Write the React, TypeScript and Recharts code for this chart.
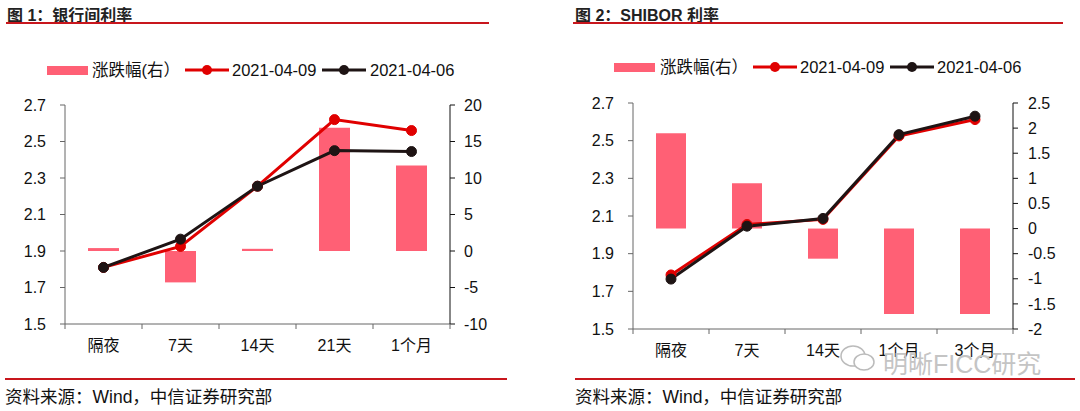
import React from 'react';
import { ComposedChart, Bar, Line, XAxis, YAxis } from 'recharts';

// 图1 银行间利率
const ibCategories = ['隔夜', '7天', '14天', '21天', '1个月'];
const ib0409 = [1.81, 1.925, 2.255, 2.62, 2.56];
const ib0406 = [1.81, 1.965, 2.255, 2.45, 2.445];
const ibChange = [0.4, -4.3, 0.3, 16.9, 11.7];
const ibLeftTicks = [1.5, 1.7, 1.9, 2.1, 2.3, 2.5, 2.7];
const ibRightTicks = [-10, -5, 0, 5, 10, 15, 20];

// 图2 SHIBOR
const shCategories = ['隔夜', '7天', '14天', '1个月', '3个月'];
const sh0409 = [1.787, 2.055, 2.082, 2.525, 2.612];
const sh0406 = [1.765, 2.046, 2.087, 2.532, 2.63];
const shChange = [1.9, 0.9, -0.6, -1.7, -1.7];
const shLeftTicks = [1.5, 1.7, 1.9, 2.1, 2.3, 2.5, 2.7];
const shRightTicks = [-2, -1.5, -1, -0.5, 0, 0.5, 1, 1.5, 2, 2.5];

const FONT = '"Liberation Sans", "Noto Sans CJK SC", sans-serif';
const RED = '#e00000';
const BLACK = '#1e1414';
const PINK = '#ff6075';
const RULE = '#c8161d';

const ibData = ibCategories.map((name, i) => ({
  name, a: ib0409[i], b: ib0406[i], chg: ibChange[i],
}));
const shData = shCategories.map((name, i) => ({
  name, a: sh0409[i], b: sh0406[i], chg: shChange[i],
}));

// category ticks sit on band boundaries, like the excel original
const CatTick = (props: any) => {
  const { x, y, payload, index, band, count } = props;
  return (
    <g>
      <line x1={x - band / 2} y1={y} x2={x - band / 2} y2={y + 5} stroke="#666" />
      {index === count - 1 && (
        <line x1={x + band / 2} y1={y} x2={x + band / 2} y2={y + 5} stroke="#666" />
      )}
      <text x={x} y={y + 21} textAnchor="middle" dominantBaseline="central"
        fontSize={16} fill="#111" fontFamily={FONT}>
        {payload.value}
      </text>
    </g>
  );
};

const LegendRow = ({ left, top, pos }: { left: number; top: number; pos: number[] }) => (
  <div style={{ position: 'absolute', left, top, width: 520, height: 20, fontFamily: FONT, fontSize: 16.5, color: '#111' }}>
    <div style={{ position: 'absolute', left: pos[0], top: 6, width: 41, height: 9, background: PINK }} />
    <span style={{ position: 'absolute', left: pos[1], top: 0, lineHeight: '20px' }}>涨跌幅(右）</span>
    <svg style={{ position: 'absolute', left: pos[2], top: 0 }} width={44} height={20}>
      <line x1={0} y1={10} x2={44} y2={10} stroke={RED} strokeWidth={3} />
      <circle cx={22} cy={10} r={5} fill={RED} />
    </svg>
    <span style={{ position: 'absolute', left: pos[3], top: 0, lineHeight: '20px' }}>2021-04-09</span>
    <svg style={{ position: 'absolute', left: pos[4], top: 0 }} width={44} height={20}>
      <line x1={0} y1={10} x2={44} y2={10} stroke={BLACK} strokeWidth={3} />
      <circle cx={22} cy={10} r={5} fill={BLACK} />
    </svg>
    <span style={{ position: 'absolute', left: pos[5], top: 0, lineHeight: '20px' }}>2021-04-06</span>
  </div>
);

const tickStyle = { fontSize: 16, fill: '#111', fontFamily: FONT };

export default function App() {
  return (
    <div style={{ position: 'fixed', left: 0, top: 0, width: 1080, height: 411, background: '#fff', overflow: 'hidden' }}>
      {/* titles */}
      <div style={{ position: 'absolute', left: 7, top: 2, fontFamily: FONT, fontSize: 16, fontWeight: 'bold', color: '#222' }}>
        图 1：银行间利率
      </div>
      <div style={{ position: 'absolute', left: 6, top: 22, width: 483, height: 2, background: RULE }} />
      <div style={{ position: 'absolute', left: 575, top: 2, fontFamily: FONT, fontSize: 16, fontWeight: 'bold', color: '#222' }}>
        图 2：SHIBOR 利率
      </div>
      <div style={{ position: 'absolute', left: 573, top: 22, width: 490, height: 2, background: RULE }} />

      <LegendRow left={0} top={60} pos={[47, 92, 185, 232, 322, 370]} />
      <LegendRow left={540} top={57} pos={[74, 120, 213, 260, 350, 397]} />

      <div style={{ position: 'absolute', left: 0, top: 0 }}>
        <ComposedChart width={540} height={411} data={ibData}
          margin={{ top: 105, right: 0, bottom: 57, left: 0 }}>
          <XAxis dataKey="name" height={30} tickLine={false} tickSize={0} tickMargin={0}
            axisLine={{ stroke: '#666' }} interval={0}
            tick={(p: any) => <CatTick {...p} band={77} count={ibCategories.length} />} />
          <YAxis yAxisId="left" width={65} domain={[1.5, 2.7]} ticks={ibLeftTicks}
            tickFormatter={(v: number) => v.toFixed(1)} tickSize={5} tickMargin={14}
            axisLine={{ stroke: '#666' }} tickLine={{ stroke: '#666' }} tick={tickStyle} />
          <YAxis yAxisId="right" orientation="right" width={90} domain={[-10, 20]} ticks={ibRightTicks}
            tickSize={5} tickMargin={9} axisLine={{ stroke: '#111' }} tickLine={{ stroke: '#111' }}
            tick={{ ...tickStyle, textAnchor: 'start' }} />
          <Bar yAxisId="right" dataKey="chg" fill={PINK} barSize={31} isAnimationActive={false} />
          <Line yAxisId="left" dataKey="a" stroke={RED} strokeWidth={3}
            dot={{ r: 5, fill: RED, stroke: RED, strokeWidth: 1 }} isAnimationActive={false} />
          <Line yAxisId="left" dataKey="b" stroke={BLACK} strokeWidth={3}
            dot={{ r: 5, fill: BLACK, stroke: BLACK, strokeWidth: 1 }} isAnimationActive={false} />
        </ComposedChart>
      </div>

      <div style={{ position: 'absolute', left: 540, top: 0 }}>
        <ComposedChart width={540} height={411} data={shData}
          margin={{ top: 103, right: 0, bottom: 52, left: 0 }}>
          <XAxis dataKey="name" height={30} tickLine={false} tickSize={0} tickMargin={0}
            axisLine={{ stroke: '#666' }} interval={0}
            tick={(p: any) => <CatTick {...p} band={76} count={shCategories.length} />} />
          <YAxis yAxisId="left" width={93} domain={[1.5, 2.7]} ticks={shLeftTicks}
            tickFormatter={(v: number) => v.toFixed(1)} tickSize={5} tickMargin={14}
            axisLine={{ stroke: '#666' }} tickLine={{ stroke: '#666' }} tick={tickStyle} />
          <YAxis yAxisId="right" orientation="right" width={67} domain={[-2, 2.5]} ticks={shRightTicks}
            tickSize={5} tickMargin={10} axisLine={{ stroke: '#111' }} tickLine={{ stroke: '#111' }}
            tick={{ ...tickStyle, textAnchor: 'start' }} />
          <Bar yAxisId="right" dataKey="chg" fill={PINK} barSize={30} isAnimationActive={false} />
          <Line yAxisId="left" dataKey="a" stroke={RED} strokeWidth={3}
            dot={{ r: 5, fill: RED, stroke: RED, strokeWidth: 1 }} isAnimationActive={false} />
          <Line yAxisId="left" dataKey="b" stroke={BLACK} strokeWidth={3}
            dot={{ r: 5, fill: BLACK, stroke: BLACK, strokeWidth: 1 }} isAnimationActive={false} />
        </ComposedChart>
      </div>

      {/* watermark */}
      <svg style={{ position: 'absolute', left: 838, top: 342 }} width={40} height={32}>
        <ellipse cx={15} cy={14} rx={12} ry={10} fill="none" stroke="#bbb" strokeWidth={1.5} />
        <ellipse cx={26} cy={20} rx={10} ry={8} fill="#fff" stroke="#bbb" strokeWidth={1.5} />
      </svg>
      <div style={{ position: 'absolute', left: 883, top: 344, fontFamily: FONT, fontSize: 25, color: '#c4c4c4' }}>
        明晰FICC研究
      </div>

      {/* footers */}
      <div style={{ position: 'absolute', left: 5, top: 378, width: 502, height: 2, background: RULE }} />
      <div style={{ position: 'absolute', left: 575, top: 378, width: 500, height: 2, background: RULE }} />
      <div style={{ position: 'absolute', left: 5, top: 383, fontFamily: FONT, fontSize: 17.5, color: '#111' }}>
        资料来源：Wind，中信证券研究部
      </div>
      <div style={{ position: 'absolute', left: 575, top: 383, fontFamily: FONT, fontSize: 17.5, color: '#111' }}>
        资料来源：Wind，中信证券研究部
      </div>
    </div>
  );
}
